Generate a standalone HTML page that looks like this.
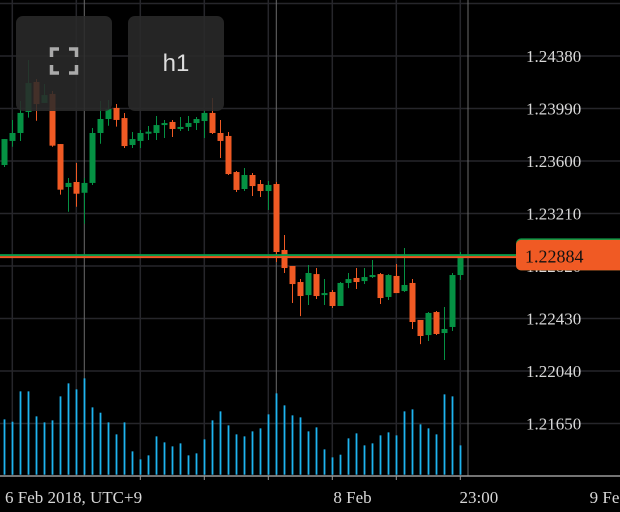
<!DOCTYPE html>
<html><head><meta charset="utf-8"><style>
html,body{margin:0;padding:0;background:#000;}
#wrap{position:relative;width:620px;height:512px;overflow:hidden;background:#000;font-family:"Liberation Serif",serif;}
svg{position:absolute;left:0;top:0;}
.btn{position:absolute;top:16px;width:96px;height:95px;border-radius:7px;background:rgba(42,42,42,0.88);}
</style></head><body>
<div id="wrap">
<svg id="chart" width="620" height="512"></svg>
<div class="btn" style="left:16px">
 <svg width="96" height="95">
  <path d="M35.5 41 V33 H43 M53 33 H60.5 V41 M35.5 49 V57 H43 M53 57 H60.5 V49" fill="none" stroke="#aaa" stroke-width="3.5"/>
 </svg>
</div>
<div class="btn" style="left:128px;color:#ddd;font-family:'Liberation Sans',sans-serif;font-size:24px;text-align:center;line-height:95px">h1</div>
</div>
<script>
const opens=[1.23570,1.23749,1.23808,1.23964,1.24187,1.24031,1.24098,1.23726,1.23407,1.23444,1.23364,1.23437,1.23808,1.23912,1.23994,1.23919,1.23719,1.23749,1.23803,1.23808,1.23867,1.23890,1.23838,1.23853,1.23882,1.23897,1.23957,1.23808,1.23786,1.23518,1.23392,1.23496,1.23429,1.23377,1.23429,1.22939,1.22820,1.22701,1.22604,1.22760,1.22604,1.22627,1.22523,1.22694,1.22731,1.22708,1.22738,1.22760,1.22590,1.22746,1.22634,1.22694,1.22419,1.22307,1.22478,1.22322,1.22367,1.22753];
const highs=[1.23763,1.23905,1.24046,1.24350,1.24209,1.24172,1.24120,1.23726,1.23474,1.23585,1.23474,1.23845,1.24046,1.24053,1.24023,1.23957,1.23815,1.23830,1.23860,1.23934,1.23905,1.23905,1.23927,1.23934,1.23927,1.23979,1.24068,1.23905,1.23815,1.23526,1.23548,1.23511,1.23459,1.23451,1.23444,1.23050,1.22820,1.22723,1.22827,1.22805,1.22723,1.22642,1.22701,1.22768,1.22805,1.22805,1.22865,1.22768,1.22760,1.22835,1.22954,1.22723,1.22419,1.22478,1.22486,1.22515,1.22768,1.22924];
const lows=[1.23555,1.23706,1.23749,1.23922,1.23899,1.24031,1.23706,1.23350,1.23223,1.23260,1.23134,1.23422,1.23728,1.23862,1.23855,1.23697,1.23697,1.23697,1.23756,1.23756,1.23771,1.23778,1.23823,1.23823,1.23830,1.23771,1.23801,1.23622,1.23496,1.23370,1.23377,1.23340,1.23333,1.23236,1.22850,1.22768,1.22545,1.22448,1.22530,1.22575,1.22530,1.22508,1.22523,1.22656,1.22649,1.22686,1.22731,1.22538,1.22567,1.22619,1.22627,1.22352,1.22240,1.22263,1.22307,1.22122,1.22337,1.22716];
const closes=[1.23763,1.23808,1.23957,1.24179,1.24023,1.24090,1.23714,1.23387,1.23437,1.23357,1.23437,1.23808,1.23912,1.23986,1.23905,1.23711,1.23763,1.23808,1.23818,1.23867,1.23882,1.23838,1.23853,1.23882,1.23912,1.23957,1.23808,1.23749,1.23503,1.23385,1.23496,1.23414,1.23377,1.23422,1.22924,1.22805,1.22686,1.22597,1.22768,1.22597,1.22619,1.22523,1.22694,1.22723,1.22701,1.22738,1.22753,1.22582,1.22753,1.22619,1.22679,1.22404,1.22300,1.22471,1.22315,1.22352,1.22753,1.22884];
const volumes=[166,159,250,250,175,157,163,235,274,256,289,202,186,157,121,157,70,46,58,115,97,85,94,58,64,106,163,190,148,121,115,130,139,181,244,208,178,172,130,142,76,52,60,109,124,88,94,118,127,118,190,196,151,139,121,241,235,88];
const priceTicks=[1.24380,1.23990,1.23600,1.23210,1.22820,1.22430,1.22040,1.21650];
const timeLabels=["6 Feb 2018, UTC+9","8 Feb","23:00","9 Fe"];
const timeLabelIdx=[0,43.5,59.3,75];
const lastPrice=1.22884;

const NS="http://www.w3.org/2000/svg";
const svg=document.getElementById('chart');
function mk(t,a,p){const e=document.createElementNS(NS,t);for(const k in a)e.setAttribute(k,a[k]);(p||svg).appendChild(e);return e;}
const yP=p=>56+(1.24380-p)/0.0039*52.5;
const xI=i=>4.5+8*i;
const yV=v=>474.7-v/3;

for(let k=0;k<8;k++){const gx=12.3+64*k;const g=mk('line',{x1:gx,y1:0,x2:gx,y2:476,stroke:'#26262b','stroke-width':1.5});
}
for(let k=-1;k<8;k++){const gy=56+52.5*k;const g=mk('line',{x1:0,y1:gy,x2:620,y2:gy,stroke:'#26262b','stroke-width':1.5});
}
[84.3,276.3,468].forEach(sx=>{const s=mk('line',{x1:sx,y1:0,x2:sx,y2:476,stroke:'#6a6a6a','stroke-width':1});
});

volumes.forEach((v,i)=>{const b=mk('rect',{x:xI(i)-0.9,y:yV(v),width:1.8,height:474.7-yV(v),fill:'#1eb4ef'});
});

opens.forEach((o,i)=>{const c=closes[i];const up=c>=o;const col=up?'#059143':'#f05a24';
const g=mk('g',{});
mk('line',{x1:xI(i),y1:yP(highs[i]),x2:xI(i),y2:yP(lows[i]),stroke:col,'stroke-width':1},g);
const t=yP(Math.max(o,c)),bt=yP(Math.min(o,c));
mk('rect',{x:xI(i)-3,y:t,width:6,height:Math.max(1.8,bt-t),fill:col},g);});

const ly=yP(lastPrice);
const pl1=mk('line',{x1:0,y1:ly-2.3,x2:620,y2:ly-2.3,stroke:'#0a9a48','stroke-width':2});

const pl2=mk('line',{x1:0,y1:ly-0.3,x2:620,y2:ly-0.3,stroke:'#f05a24','stroke-width':2});


priceTicks.forEach(p=>{const t=mk('text',{x:526,y:yP(p)+6,fill:'#d8d8d8','font-size':17,'font-family':'Liberation Serif, serif'});
t.textContent=p.toFixed(5);});

const bg=mk('g',{});
mk('rect',{x:516,y:ly-19,width:110,height:32,rx:5,fill:'#0a9a48'},bg);
mk('rect',{x:516,y:ly-17.5,width:110,height:30.5,rx:5,fill:'#f05a24'},bg);
const bt=mk('text',{x:525,y:ly+5,fill:'#111','font-size':18,'font-family':'Liberation Serif, serif'},bg);
bt.textContent=lastPrice.toFixed(5);

const ax=mk('line',{x1:0,y1:476,x2:620,y2:476,stroke:'#9a9a9a','stroke-width':1.5});

for(let k=2;k<8;k++){const tk=mk('line',{x1:12.3+64*k,y1:476,x2:12.3+64*k,y2:480,stroke:'#9a9a9a','stroke-width':1});
}
timeLabels.forEach((s,j)=>{const i=timeLabelIdx[j];
const t=mk('text',{x:j==0?5:xI(i),y:503,fill:'#d8d8d8','font-size':17,'font-family':'Liberation Serif, serif','text-anchor':j==0?'start':'middle'});
t.textContent=s;});
</script>
</body></html>
